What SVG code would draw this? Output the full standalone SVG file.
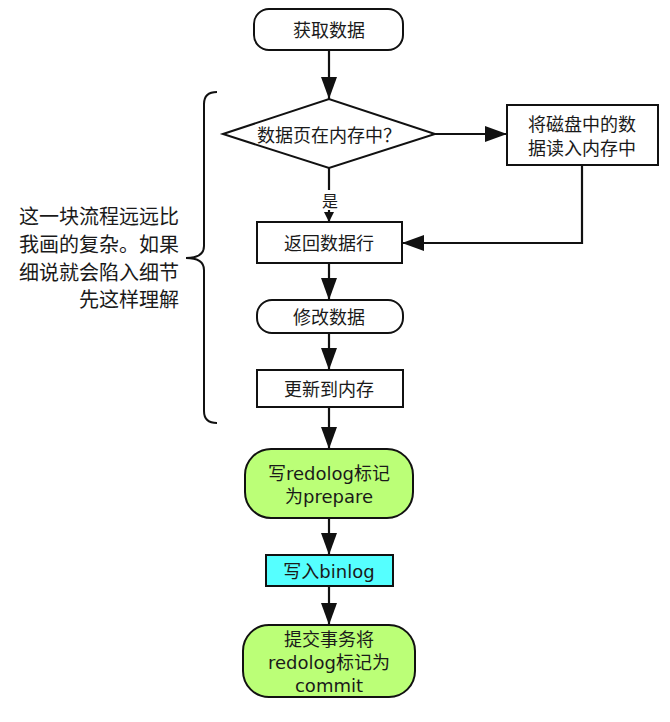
<svg xmlns="http://www.w3.org/2000/svg" width="670" height="722" viewBox="0 0 670 722">
<style>
.n{fill:#fff;stroke:#111;stroke-width:2}
.g{fill:#bbff77;stroke:#111;stroke-width:2}
.c{fill:#55ffff;stroke:#111;stroke-width:2}
.t{font-family:"DejaVu Sans","Noto Sans CJK SC",sans-serif;font-size:18px;fill:#1a1a1a;text-anchor:middle;dominant-baseline:central}
.e{fill:none;stroke:#111;stroke-width:2.2}
.b{fill:none;stroke:#111;stroke-width:2}
.l{font-family:"Noto Sans CJK SC",sans-serif;font-size:20px;fill:#1a1a1a;text-anchor:end;dominant-baseline:central}
</style>
<defs>
<marker id="a" markerUnits="userSpaceOnUse" markerWidth="22" markerHeight="18" refX="22" refY="8" orient="auto" viewBox="0 0 22 16">
<path d="M0,0 L22,8 L0,16 Z" fill="#111"/>
</marker>
<marker id="s" markerUnits="userSpaceOnUse" markerWidth="10" markerHeight="10" refX="8" refY="4" orient="auto" viewBox="0 0 8 8">
<path d="M0,0 L8,4 L0,8 Z" fill="#111"/>
</marker>
</defs>
<rect width="670" height="722" fill="#fff"/>
<g id="connectors">
<line class="e" x1="329" y1="50" x2="329" y2="99" marker-end="url(#a)"/>
<line class="e" x1="435" y1="134" x2="507" y2="134" marker-end="url(#a)"/>
<line class="e" x1="329" y1="168" x2="329" y2="222" marker-end="url(#s)"/>
<rect x="320" y="190" width="20" height="20" fill="#fff"/>
<text class="t" x="330" y="200" style="font-family:'Noto Sans CJK SC',sans-serif;font-size:16px">是</text>
<polyline class="e" points="582,165 582,243 402,243" marker-end="url(#a)"/>
<line class="e" x1="329" y1="263" x2="329" y2="300" marker-end="url(#a)"/>
<line class="e" x1="329" y1="333" x2="329" y2="370" marker-end="url(#a)"/>
<line class="e" x1="329" y1="407" x2="329" y2="449" marker-end="url(#a)"/>
<line class="e" x1="329" y1="518" x2="329" y2="555" marker-end="url(#a)"/>
<line class="e" x1="329" y1="586" x2="329" y2="625" marker-end="url(#a)"/>
</g>
<g id="start">
<rect class="n" x="254" y="9" width="149" height="41" rx="15"/>
<text class="t" x="329" y="30">获取数据</text>
</g>
<g id="decision">
<polygon class="n" points="223,134 329,99 435,134 329,168"/>
<text class="t" x="329" y="134" style="font-family:'Noto Sans CJK SC',sans-serif">数据页在内存中？</text>
</g>
<g id="readdisk">
<rect class="n" x="507" y="105" width="151" height="60"/>
<text class="t" x="582" y="124">将磁盘中的数</text>
<text class="t" x="582" y="148">据读入内存中</text>
</g>
<g id="returnrow">
<rect class="n" x="257" y="222" width="145" height="41"/>
<text class="t" x="329" y="243">返回数据行</text>
</g>
<g id="modify">
<rect class="n" x="257" y="300" width="146" height="33" rx="15"/>
<text class="t" x="329" y="317">修改数据</text>
</g>
<g id="update">
<rect class="n" x="257" y="370" width="146" height="37"/>
<text class="t" x="329" y="389">更新到内存</text>
</g>
<g id="prepare">
<rect class="g" x="245" y="449" width="168" height="69" rx="26"/>
<text class="t" x="329" y="473">写redolog标记</text>
<text class="t" x="329" y="496">为prepare</text>
</g>
<g id="binlog">
<rect class="c" x="266" y="555" width="127" height="31"/>
<text class="t" x="329" y="571">写入binlog</text>
</g>
<g id="commit">
<rect class="g" x="243" y="625" width="172" height="72" rx="26"/>
<text class="t" x="329" y="639">提交事务将</text>
<text class="t" x="329" y="662">redolog标记为</text>
<text class="t" x="329" y="685">commit</text>
</g>
<g id="note">
<path class="b" d="M217,92 Q204,92 204,104 L204,246 Q204,258 186,258 Q204,258 204,270 L204,411 Q204,423 217,423"/>
<text class="l" x="179" y="215">这一块流程远远比</text>
<text class="l" x="179" y="243">我画的复杂。如果</text>
<text class="l" x="179" y="271">细说就会陷入细节</text>
<text class="l" x="179" y="298">先这样理解</text>
</g>
</svg>
